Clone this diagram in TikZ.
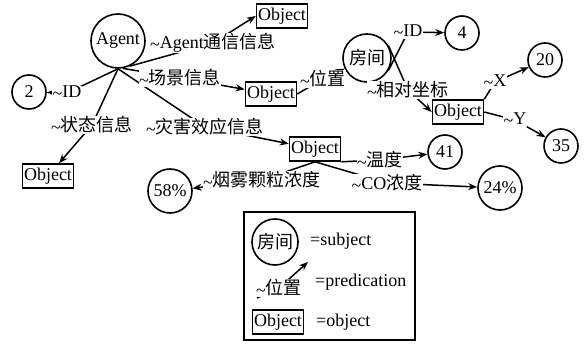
\documentclass[tikz,border=0pt]{standalone}
\usepackage{fontspec}
\setmainfont{Liberation Serif}
\newfontfamily\cjk{Noto Sans CJK SC}
\usetikzlibrary{arrows.meta}
\pgfdeclarelayer{bg}
\pgfsetlayers{bg,main}
\newcommand{\tl}{\raisebox{-2pt}{\textasciitilde}}
\begin{document}
\begin{tikzpicture}[x=1pt,y=-1pt, font=\fontsize{18}{20}\selectfont,
  circ/.style={draw, circle, line width=1.6pt, inner sep=0pt, minimum size=#1},
  obj/.style={draw, rectangle, line width=1.6pt, inner sep=1.5pt, minimum height=24pt},
  lab/.style={fill=white, inner sep=0.3pt},
  arr/.style={line width=1.5pt, -{Stealth[length=9pt,width=7pt]}}]
\useasboundingbox (0,0) rectangle (587,344);
% nodes
\node[circ=54] (Agent) at (118,41) {Agent};
\node[obj] (O1) at (282,16) {Object};
\node[circ=34] (c2) at (29,92) {2};
\node[obj] (O5) at (48,176) {Object};
\node[obj] (O2) at (271,94) {Object};
\node[circ=48] (Room) at (367,58) {\cjk 房间};
\node[circ=34] (c4) at (462,33) {4};
\node[circ=34] (c20) at (545,60) {20};
\node[obj] (O3) at (458,112) {Object};
\node[circ=34] (c35) at (561,146) {35};
\node[obj] (O4) at (315,149) {Object};
\node[circ=34] (c41) at (445,152) {41};
\node[circ=44] (c24) at (500,188) {24\%};
\node[circ=44] (c58) at (170,191) {58\%};
% labels
\node[lab] (lAg) at (213,43) {\tl Agent\cjk 通信信息};
\node[lab] (lID) at (67,93) {\tl ID};
\node[lab] (lZT) at (92,125) {\tl\cjk 状态信息};
\node[lab] (lCJ) at (180,78) {\tl\cjk 场景信息};
\node[lab] (lZH) at (205,127) {\tl\cjk 灾害效应信息};
\node[lab] (lWZ) at (323,79) {\tl\cjk 位置};
\node[lab] (lID2) at (408,32) {\tl ID};
\node[lab] (lXD) at (408,90) {\tl\cjk 相对坐标};
\node[lab] (lX) at (495,82) {\tl X};
\node[lab] (lY) at (515,120) {\tl Y};
\node[lab] (lWD) at (380,160) {\tl\cjk 温度};
\node[lab] (lCO) at (387,183) {\tl CO\cjk 浓度};
\node[lab] (lYW) at (262,180) {\tl\cjk 烟雾颗粒浓度};
% legend
\node[draw, line width=1.6pt, minimum width=171pt, minimum height=128pt, inner sep=0pt] (legend) at (329.5,276) {};
\node[circ=46] (lgRoom) at (275,242) {\cjk 房间};
\node[anchor=west, inner sep=0pt] (tSub) at (310,241) {=subject};
\node[lab] (lgL) at (279,288) {\tl\cjk 位置};
\coordinate (lgA) at (257,298);
\coordinate (lgB) at (308,262);
\node[anchor=west, inner sep=0pt] (tPre) at (315,282) {=predication};
\node[obj] (lgObj) at (278,322) {Object};
\node[anchor=west, inner sep=0pt] (tObj) at (316,322) {=object};
% connectors
\begin{pgfonlayer}{bg}
\draw[arr] (Agent.-65) -- (lAg.center) -- (O1.west);
\draw[arr] (Agent.south) -- (lID.center) -- (c2);
\draw[arr] (Agent.south) -- (lZT.center) -- (O5);
\draw[arr] (Agent.-80) -- (lCJ.center) -- (O2);
\draw[arr] (Agent.south) -- (lZH.center) -- (O4);
\draw[arr] (O2.east) -- (lWZ.center) -- (Room);
\draw[arr] (Room.-30) -- (lID2.center) -- (c4);
\draw[arr] (Room.30) -- (lXD.center) -- (O3.west);
\draw[arr] (O3.north east) -- (lX.center) -- (c20);
\draw[arr] (O3.east) -- (lY.center) -- (c35);
\draw[arr] (O4.south east) -- (lWD.center) -- (c41);
\draw[arr] (O4.south) -- (lCO.center) -- (c24);
\draw[arr] (O4.south) -- (lYW.center) -- (c58);
\draw[arr] (lgA) -- (lgL.center) -- (lgB);
\end{pgfonlayer}
\end{tikzpicture}
\end{document}
